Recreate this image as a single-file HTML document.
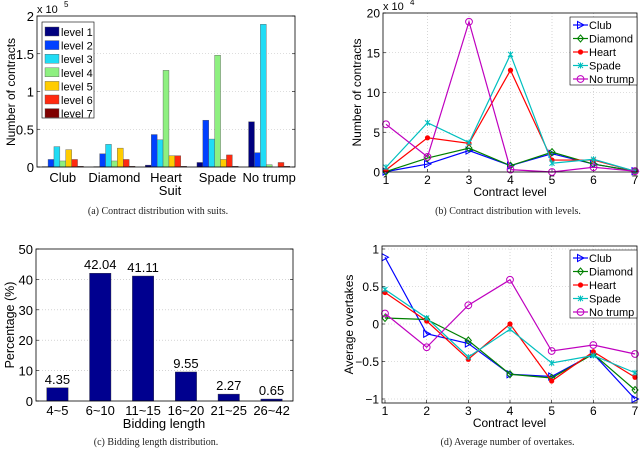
<!DOCTYPE html>
<html><head><meta charset="utf-8">
<style>
html,body{margin:0;padding:0;background:#fff;}
svg{display:block;font-family:"Liberation Sans",sans-serif;}
.cap{font-family:"Liberation Serif",serif;font-size:10px;fill:#222;}
</style></head>
<body>
<svg id="fig" width="640" height="452" viewBox="0 0 640 452" xmlns="http://www.w3.org/2000/svg"></svg>
<script>
// ---- data (a)
const suitCats = ["Club","Diamond","Heart","Spade","No trump"];
const levelNames = ["level 1","level 2","level 3","level 4","level 5","level 6","level 7"];
const levelColors = ["#00007f","#0040ff","#20dcf5","#8ef080","#ffcc00","#ff2a10","#7f0000"];
// values in 1e5, rows: suit, columns: level
const clubLevels = [0.005,0.10,0.27,0.08,0.23,0.10,0.01];
const diamondLevels = [0.005,0.175,0.30,0.08,0.25,0.10,0.01];
const heartLevels = [0.025,0.43,0.36,1.28,0.15,0.15,0.01];
const spadeLevels = [0.06,0.62,0.37,1.48,0.10,0.16,0.01];
const ntLevels = [0.60,0.19,1.89,0.03,0.0,0.06,0.01];
const aTicks = [0,0.5,1,1.5,2];
const aTickLabels = ["0","0.5","1","1.5","2"];
// ---- data (b) in 1e4
const levels = [1,2,3,4,5,6,7];
const bClub = [0.05,1.0,2.7,0.8,2.3,1.0,0.1];
const bDiamond = [0.05,1.75,3.0,0.8,2.5,1.0,0.1];
const bHeart = [0.25,4.3,3.6,12.8,1.5,1.5,0.1];
const bSpade = [0.6,6.2,3.7,14.8,1.1,1.6,0.1];
const bNT = [6.0,1.9,18.9,0.3,0.0,0.6,0.1];
const bTicks = [0,5,10,15,20];
// ---- data (c)
const bidCats = ["4~5","6~10","11~15","16~20","21~25","26~42"];
const bidVals = [4.35,42.04,41.11,9.55,2.27,0.65];
const bidLabels = ["4.35","42.04","41.11","9.55","2.27","0.65"];
const cTicks = [0,10,20,30,40,50];
// ---- data (d)
const dClub = [0.89,-0.13,-0.26,-0.67,-0.70,-0.40,-1.0];
const dDiamond = [0.08,0.06,-0.22,-0.67,-0.72,-0.40,-0.88];
const dHeart = [0.42,0.04,-0.47,0.0,-0.76,-0.37,-0.71];
const dSpade = [0.46,0.08,-0.44,-0.07,-0.52,-0.42,-0.65];
const dNT = [0.14,-0.31,0.25,0.59,-0.36,-0.28,-0.40];
const dTicks = [-1,-0.5,0,0.5,1];
const dTickLabels = ["\u22121","\u22120.5","0","0.5","1"];
const seriesNames = ["Club","Diamond","Heart","Spade","No trump"];
const seriesColors = ["#0000ff","#008000","#ff0000","#00bfbf","#bf00bf"];
const seriesMarkers = ["tri","dia","dot","x","circ"];

const NS="http://www.w3.org/2000/svg";
const svg=document.getElementById('fig');
function el(tag,attrs,parent,text){
  const e=document.createElementNS(NS,tag);
  for(const k in attrs) e.setAttribute(k,attrs[k]);
  if(text!==undefined) e.textContent=text;
  (parent||svg).appendChild(e);return e;
}
function lin(d0,d1,r0,r1){return v=>r0+(v-d0)*(r1-r0)/(d1-d0);}
function grp(name){const g=el('g',{});return g;}
function box(g,x0,y0,x1,y1){el('rect',{x:x0,y:y0,width:x1-x0,height:y1-y0,fill:'none',stroke:'#000','stroke-width':0.8},g);}
function hgrid(g,x0,x1,y){el('line',{x1:x0,x2:x1,y1:y,y2:y,stroke:'#bbb','stroke-width':0.6,'stroke-dasharray':'1,2'},g);}
function vgrid(g,y0,y1,x){el('line',{x1:x,x2:x,y1:y0,y2:y1,stroke:'#bbb','stroke-width':0.6,'stroke-dasharray':'1,2'},g);}
function marker(g,type,x,y,c){
  if(type==='tri') el('path',{d:`M${x-3},${y-3.5}L${x+3.5},${y}L${x-3},${y+3.5}Z`,fill:'none',stroke:c,'stroke-width':1},g);
  else if(type==='dia') el('path',{d:`M${x},${y-3.5}L${x+3},${y}L${x},${y+3.5}L${x-3},${y}Z`,fill:'none',stroke:c,'stroke-width':1},g);
  else if(type==='dot') el('circle',{cx:x,cy:y,r:2.6,fill:c},g);
  else if(type==='x') el('path',{d:`M${x-2.5},${y-2.5}L${x+2.5},${y+2.5}M${x-2.5},${y+2.5}L${x+2.5},${y-2.5}M${x},${y-3}L${x},${y+3}`,stroke:c,'stroke-width':1},g);
  else el('circle',{cx:x,cy:y,r:3.4,fill:'none',stroke:c,'stroke-width':1},g);
}

// ===== chart (a)
(function(){
  const g=grp('chart-a-suits');
  const X0=37,X1=295,Y0=16,Y1=167;
  const y=lin(0,2,Y1,Y0);
  const xc=lin(0.5,5.5,X0,X1);
  aTicks.forEach((t,i)=>{const yy=y(t);if(i>0&&i<aTicks.length-1)hgrid(g,X0,X1,yy);
    el('line',{x1:X0,x2:X0+3,y1:yy,y2:yy,stroke:'#000','stroke-width':0.6},g);
    el('line',{x1:X1,x2:X1-3,y1:yy,y2:yy,stroke:'#000','stroke-width':0.6},g);
    const tl=el('text',{x:X0-3,y:yy+5,'text-anchor':'end','font-size':13},g,aTickLabels[i]);
    });
  const rows=[clubLevels,diamondLevels,heartLevels,spadeLevels,ntLevels];
  const slot=(X1-X0)/5, gw=slot*0.8, bw=gw/7;
  rows.forEach((row,si)=>{
    const cx=xc(si+1);
    row.forEach((v,li)=>{
      const bx=cx-gw/2+li*bw;
      const r=el('rect',{x:bx,y:y(v),width:bw,height:Math.max(0,Y1-y(v)),fill:levelColors[li],stroke:'#555','stroke-width':0.4},g);
      
      
    });
    const t=el('text',{x:cx,y:182,'text-anchor':'middle','font-size':13},g,suitCats[si]);
    
  });
  box(g,X0,Y0,X1,Y1);
  const xt=el('text',{x:xc(3)+4,y:195,'text-anchor':'middle','font-size':13},g,'Suit');
  
  const yt=el('text',{x:0,y:0,transform:'translate(15,92) rotate(-90)','text-anchor':'middle','font-size':12},g,'Number of contracts');
  
  const ex=el('text',{x:37,y:13,'font-size':11},g,'x 10');
  
  el('text',{x:64,y:7,'font-size':8},g,'5');
  // legend
  const lg=grp('legend-a');g.appendChild(lg);
  el('rect',{x:42,y:22,width:52,height:96,fill:'#fff',stroke:'#000','stroke-width':0.6},lg);
  levelNames.forEach((n,i)=>{
    const e=grp('legend-entry');lg.appendChild(e);
    const yy=27+i*13.6;
    el('rect',{x:45,y:yy,width:14,height:9,fill:levelColors[i],stroke:'#555','stroke-width':0.4},e);
    el('text',{x:61,y:yy+9,'font-size':11},e,n);
  });
  const c=el('text',{x:158,y:214,'text-anchor':'middle',class:'cap'},g,'(a)  Contract distribution with suits.');
  
})();

// line chart helper
function lineChart(name,X0,X1,Y0,Y1,xs,ymin,ymax,yTop,yBot,ticks,tickLabels,series,legendY,ytitle,ytx,caption,capY,expo){
  const g=grp(name);
  const x=lin(1,7,X0+3,X1-2);
  const y=lin(ymin,ymax,yBot,yTop);
  xs.forEach(v=>{const xx=x(v);if(v>1&&v<7)vgrid(g,Y0,Y1,xx);
    el('line',{x1:xx,x2:xx,y1:Y1,y2:Y1-3,stroke:'#000','stroke-width':0.6},g);
    const t=el('text',{x:xx,y:Y1+12,'text-anchor':'middle','font-size':12},g,String(v));
    });
  ticks.forEach((t,i)=>{const yy=y(t);if(yy>Y0+2&&yy<Y1-2)hgrid(g,X0,X1,yy);
    el('line',{x1:X0,x2:X0+3,y1:yy,y2:yy,stroke:'#000','stroke-width':0.6},g);
    const tl=el('text',{x:X0-3,y:yy+4.5,'text-anchor':'end','font-size':12},g,tickLabels[i]);
    });
  series.forEach((s,si)=>{
    const sg=grp('series-'+seriesNames[si].toLowerCase().replace(' ','-'));g.appendChild(sg);
    el('polyline',{points:s.map((v,i)=>x(xs[i])+','+y(v)).join(' '),fill:'none',stroke:seriesColors[si],'stroke-width':1.2},sg);
    s.forEach((v,i)=>marker(sg,seriesMarkers[si],x(xs[i]),y(v),seriesColors[si]));
  });
  box(g,X0,Y0,X1,Y1);
  const xt=el('text',{x:(X0+X1)/2,y:Y1+24,'text-anchor':'middle','font-size':12},g,'Contract level');
  
  const yt=el('text',{x:0,y:0,transform:`translate(${ytx},${(Y0+Y1)/2}) rotate(-90)`,'text-anchor':'middle','font-size':12},g,ytitle);
  
  if(expo){const ex=el('text',{x:383,y:10,'font-size':11},g,'x 10');
    el('text',{x:410,y:5,'font-size':8},g,'4');}
  const lg=grp('legend');g.appendChild(lg);
  el('rect',{x:570,y:legendY,width:67,height:68,fill:'#fff',stroke:'#000','stroke-width':0.6},lg);
  seriesNames.forEach((n,i)=>{
    const e=grp('legend-entry');lg.appendChild(e);
    const yy=legendY+8+i*13.5;
    el('line',{x1:573,x2:588,y1:yy,y2:yy,stroke:seriesColors[i],'stroke-width':1.2},e);
    marker(e,seriesMarkers[i],580.5,yy,seriesColors[i]);
    el('text',{x:589,y:yy+4,'font-size':11},e,n);
  });
  const c=el('text',{x:(X0+X1)/2-2,y:capY,'text-anchor':'middle',class:'cap'},g,caption);
  
}
lineChart('chart-b-levels',383,637,13,172,levels,0,20,13,172,bTicks,bTicks.map(String),[bClub,bDiamond,bHeart,bSpade,bNT],17,'Number of contracts',361,'(b)  Contract distribution with levels.',214,true);
lineChart('chart-d-overtakes',382,637,246,403,levels,-1,1,249,399,dTicks,dTickLabels,[dClub,dDiamond,dHeart,dSpade,dNT],250,'Average overtakes',353,'(d)  Average number of overtakes.',445,false);

// ===== chart (c)
(function(){
  const g=grp('chart-c-bidding');
  const X0=36,X1=293,Y0=249,Y1=401;
  const y=lin(0,50,Y1,Y0);
  const x=lin(0.5,6.5,X0,X1);
  cTicks.forEach(t=>{const yy=y(t);if(t>0&&t<50)hgrid(g,X0,X1,yy);
    el('line',{x1:X0,x2:X0+3,y1:yy,y2:yy,stroke:'#000','stroke-width':0.6},g);
    el('line',{x1:X1,x2:X1-3,y1:yy,y2:yy,stroke:'#000','stroke-width':0.6},g);
    const tl=el('text',{x:X0-3,y:yy+5,'text-anchor':'end','font-size':13},g,String(t));
    });
  const bw=(X1-X0)/6*0.5;
  bidVals.forEach((v,i)=>{
    const cx=x(i+1);
    const r=el('rect',{x:cx-bw/2,y:y(v),width:bw,height:Y1-y(v),fill:'#00008f',stroke:'#333','stroke-width':0.4},g);
    
    const vl=el('text',{x:cx,y:y(v)-4,'text-anchor':'middle','font-size':13},g,bidLabels[i]);
    
    const t=el('text',{x:cx,y:Y1+14,'text-anchor':'middle','font-size':13},g,bidCats[i]);
    
  });
  box(g,X0,Y0,X1,Y1);
  const xt=el('text',{x:164,y:428,'text-anchor':'middle','font-size':13},g,'Bidding length');
  
  const yt=el('text',{x:0,y:0,transform:'translate(14,325) rotate(-90)','text-anchor':'middle','font-size':12.5},g,'Percentage (%)');
  
  const c=el('text',{x:156,y:445,'text-anchor':'middle',class:'cap'},g,'(c)  Bidding length distribution.');
  
})();
</script>
</body></html>
